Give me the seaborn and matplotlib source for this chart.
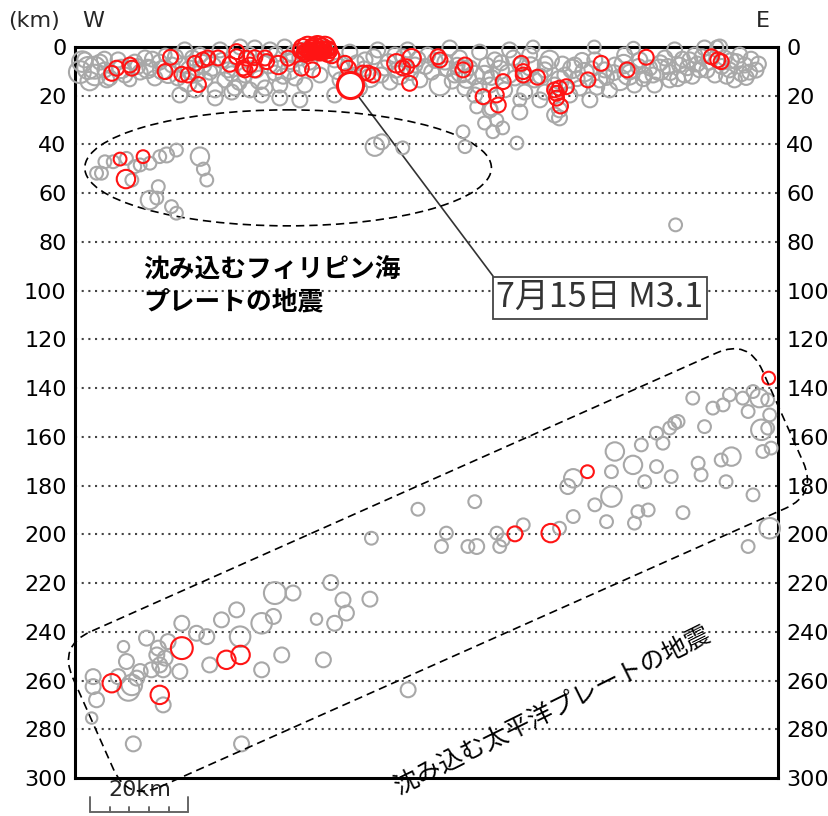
import numpy as np
import pandas as pd
import matplotlib
matplotlib.use("Agg")
import matplotlib.pyplot as plt
import seaborn as sns
from matplotlib.patches import Ellipse, FancyBboxPatch
from matplotlib.transforms import Affine2D

# ---------------- data (x: km from W edge, depth: km, mag) ----------------
gray_x = [1.0, 2.7, 4.1, 5.1, 2.0, 6.1, 7.1, 8.8, 10.2, 11.2, 12.2, 13.3, 14.3, 15.3, 16.3, 17.3, 18.4, 19.8, 21.0,
          22.4, 23.5, 24.5, 25.5, 26.5, 27.5, 28.6, 29.6, 30.6, 31.2, 32.6, 33.7, 34.7, 35.7, 36.7, 37.7, 38.8, 39.8,
          40.8, 41.8, 42.8, 43.9, 44.9, 45.9, 46.9, 47.9, 50.0, 51.0, 53.0, 54.1, 56.1, 57.1, 58.1, 59.2, 60.2, 61.8,
          63.2, 64.3, 65.3, 66.3, 67.9, 69.4, 70.4, 72.0, 72.8, 74.5, 75.5, 76.5, 77.5, 78.5, 79.6, 80.6, 81.6, 82.6,
          83.6, 84.7, 85.7, 86.7, 87.7, 88.7, 89.8, 90.8, 91.8, 92.8, 93.8, 94.9, 95.9, 96.9, 97.9, 98.9, 100.0,
          101.0, 102.0, 103.0, 104.0, 105.1, 106.1, 107.1, 108.1, 109.1, 110.2, 111.2, 112.2, 113.2, 114.2, 115.3,
          116.3, 117.3, 118.3, 119.3, 120.4, 121.4, 122.4, 123.4, 124.4, 125.5, 126.5, 127.5, 128.5, 129.5, 130.6,
          131.6, 132.6, 133.6, 134.6, 135.7, 136.7, 137.7,
          21.4, 28.6, 32.0, 38.1, 41.8, 45.9, 53.0, 84.7, 90.8, 95.9, 97.9, 98.9,
          46.9, 48.9, 44.9, 14.8, 19.0, 26.0, 27.0, 23.0, 25.0, 79.0, 80.0, 101.5, 99.0, 113.0,
          121.0, 124.0, 127.0, 130.0, 135.0, 138.0, 139.5, 136.0, 133.0, 131.0, 114.0, 106.0, 93.5,
          3.0, 6.5, 9.5, 12.8, 15.8, 17.8, 20.5, 22.0, 24.0, 28.0, 30.0, 32.0, 33.5, 35.5, 37.0, 39.5, 41.0,
          42.5, 44.0, 53.8, 55.5, 57.5, 59.0, 61.0, 62.5, 64.0, 65.5, 67.0, 68.5, 70.0, 71.5, 73.5, 76.0, 77.0,
          78.0, 81.5, 82.5, 84.0, 85.0, 87.0, 88.5, 89.5, 92.0, 93.0, 95.0, 96.0, 99.5, 102.5, 103.5, 105.5,
          106.5, 108.5, 110.0, 112.0, 115.0, 116.0, 118.0, 119.5, 121.5, 123.0, 125.0, 126.0, 128.0, 129.0,
          132.0, 134.0, 137.0, 139.0, 1.5, 4.0, 6.0,
          # Philippine Sea plate
          4.4, 5.4, 6.1, 7.8, 11.6, 13.3, 15.3, 17.3, 18.7, 20.7, 25.5, 26.2, 26.9, 17.0, 15.3, 16.7, 19.7, 20.7,
          12.2, 10.5, 61.2, 62.6, 66.9, 79.2, 79.6, 85.3, 87.3, 83.6, 82.0, 84.9, 86.1, 90.2, 90.8, 122.6,
          # Pacific plate
          126.1, 130.2, 132.3, 133.6, 136.3, 138.4, 139.7, 141.4, 137.4, 140.1, 141.4, 141.8, 140.4, 142.1, 138.4,
          141.8, 137.4, 122.4, 123.1, 121.4, 128.5, 118.7, 120.0, 115.6, 110.2, 113.9, 118.7, 121.7, 109.5, 116.3,
          127.2, 127.8, 131.9, 134.0, 132.9, 101.7, 100.6, 109.5, 106.1, 108.5, 101.7, 114.2, 114.9, 117.0, 124.1,
          98.9, 91.5, 86.1, 86.7, 87.4, 82.0, 80.2, 75.8, 74.8, 81.6, 70.0, 60.5,
          40.8, 44.5, 52.2, 54.7, 55.4, 60.2, 49.3, 53.0, 40.5, 38.1, 33.0, 29.9, 21.8, 33.7, 26.9, 24.8, 14.6,
          9.9, 19.0, 17.0, 16.7, 18.4, 17.3, 15.6, 18.0, 21.4, 10.5, 13.3, 8.8, 11.6, 10.9, 12.6, 3.7, 4.4, 3.7,
          3.4, 18.0, 27.5, 38.1, 42.2, 50.7, 11.9, 34.0, 68.0]
gray_depth = [10.3, 8.6, 11.5, 6.2, 5.3, 9.4, 12.7, 5.3, 11.5, 13.5, 6.2, 10.3, 4.5, 8.6, 12.7, 6.2, 3.3, 7.4, 12.7,
              1.2, 9.4, 17.6, 3.3, 13.5, 10.3, 17.6, 1.2, 13.5, 9.4, 16.8, 0.0, 11.5, 17.6, 0.4, 13.5, 16.8, 1.2,
              10.7, 15.6, 0.0, 9.4, 12.7, 4.5, 15.6, 6.2, 11.5, 0.4, 5.3, 13.5, 2.1, 11.5, 16.8, 5.3, 12.7, 1.2,
              8.6, 14.4, 3.3, 11.5, 1.2, 7.4, 13.5, 3.3, 10.3, 15.6, 6.2, 0.4, 11.5, 4.5, 16.8, 8.6, 19.7, 2.1,
              11.5, 15.6, 5.3, 9.4, 17.6, 1.2, 12.7, 7.4, 18.5, 3.3, 13.5, 21.7, 9.4, 5.3, 15.6, 25.8, 11.5,
              19.7, 7.4, 16.8, 10.3, 21.7, 5.3, 13.5, 9.4, 17.6, 7.4, 13.5, 3.3, 10.3, 15.6, 5.3,
              11.5, 8.6, 15.6, 9.4, 4.5, 13.5, 1.2, 7.4, 11.5, 5.3, 3.3, 9.4, 0.4, 6.2, 11.5,
              0.0, 4.5, 9.4, 13.5, 3.3, 7.4, 10.3,
              19.7, 20.9, 18.5, 19.7, 20.9, 21.7, 19.7, 25.8, 26.7, 18.5, 27.9, 29.1,
              1.2, 2.5, 3.0, 9.0, 11.0, 7.0, 5.0, 14.5, 11.0, 10.0, 13.0, 9.0, 13.5, 11.0,
              8.0, 5.0, 7.0, 4.0, 6.0, 5.0, 7.0, 11.0, 12.0, 0.0, 0.5, 0.0, 0.0,
              14.0, 13.5, 9.0, 8.0, 5.0, 9.5, 4.0, 7.5, 4.5, 8.0, 5.5, 11.0, 14.5, 3.0, 9.5, 7.0, 3.0,
              12.0, 6.0, 9.0, 12.0, 6.5, 9.0, 4.0, 11.5, 6.0, 9.5, 4.0, 10.5, 5.0, 8.0, 5.5, 9.0, 14.0,
              7.5, 11.5, 16.0, 7.5, 12.5, 6.5, 11.0, 4.5, 12.0, 8.0, 12.0, 7.0, 7.0, 13.0, 5.5, 9.0,
              16.5, 12.5, 10.5, 7.0, 8.0, 13.0, 11.5, 6.5, 10.5, 13.0, 8.5, 12.0, 4.0, 9.5,
              8.0, 5.5, 12.5, 9.5, 6.0, 8.5, 5.0,
              51.8, 51.8, 47.1, 47.1, 54.6, 48.4, 47.7, 45.0, 44.3, 42.3, 45.0, 50.1, 54.6, 57.3, 62.8, 62.0, 65.5,
              68.2, 49.1, 45.7, 40.9, 38.9, 41.4, 34.8, 40.9, 34.8, 33.2, 31.2, 24.6, 25.4, 30.0, 39.4, 21.7, 73.0,
              144.1, 148.2, 146.9, 142.8, 144.1, 141.4, 144.1, 144.8, 149.6, 157.1, 156.4, 151.0, 166.0, 164.6,
              183.8, 197.5, 205.0, 154.4, 153.7, 156.4, 155.8, 158.5, 162.6, 163.3, 166.0, 171.5, 172.2, 176.3,
              174.3, 178.4, 170.8, 175.6, 169.5, 168.1, 178.4, 177.0, 180.4, 184.5, 187.9, 194.8, 192.7, 195.4,
              190.7, 190.0, 191.1, 197.5, 196.1, 199.5, 205.0, 202.3, 205.0, 205.0, 199.5, 205.0, 186.6, 189.7,
              201.6,
              224.1, 224.1, 219.8, 226.9, 232.3, 226.6, 234.8, 236.5, 233.7, 236.5, 231.0, 235.1, 236.5, 242.0,
              242.0, 240.6, 242.6, 246.1, 244.0, 246.7, 249.5, 250.8, 253.6, 255.6, 255.6, 256.3, 252.2, 256.3,
              258.4, 261.8, 263.8, 259.0, 258.4, 267.9, 262.5, 275.4, 270.0, 253.6, 255.6, 249.5, 251.5, 286.0,
              286.0, 263.8]
gray_mag = [2.5, 2.5, 2.3, 1.5, 1.5, 1.5, 1.5, 1.5, 1.5, 1.2, 1.5, 1.5, 1.5, 1.5, 1.5, 1.5, 1.2, 1.5, 1.5,
            1.5, 2.0, 1.5, 1.5, 1.5, 1.5, 1.5, 1.5, 1.5, 1.5, 1.5, 1.5, 1.5, 1.5, 1.5, 2.0, 1.5, 1.5,
            1.5, 1.5, 1.5, 2.0, 1.5, 1.5, 1.5, 1.5, 1.5, 1.5, 1.5, 1.5, 1.5, 1.5, 1.5, 1.5, 2.0, 1.5,
            1.5, 1.5, 1.5, 2.0, 1.5, 1.5, 1.5, 1.5, 1.5, 2.3, 1.5, 1.5, 1.5, 1.5, 1.5, 1.5, 1.5, 1.5,
            2.0, 1.5, 1.5, 2.0, 1.5, 1.5, 1.5, 1.5, 1.5, 1.5, 1.5, 1.5, 1.5, 2.0, 1.5, 1.5, 1.5,
            1.5, 1.5, 1.5, 2.0, 1.5, 1.5, 1.5, 1.5, 1.5, 1.5, 2.3, 1.5, 1.5, 1.5, 1.5,
            1.5, 1.5, 1.5, 2.3, 1.5, 1.5, 1.5, 1.5, 1.5, 1.5, 1.5, 1.5, 1.5, 1.5, 1.5,
            1.5, 1.5, 1.5, 1.5, 1.5, 1.5, 1.5,
            1.5, 1.5, 1.5, 1.5, 1.5, 1.5, 1.5, 1.5, 1.5, 1.5, 1.5, 1.5,
            1.5, 1.5, 2.0, 2.0, 2.0, 2.0, 1.5, 2.0, 1.5, 2.5, 2.0, 2.0, 2.0, 2.5,
            1.5, 1.5, 1.5, 1.5, 1.5, 1.5, 1.5, 1.5, 1.5, 1.2, 1.2, 1.2, 1.2,
            2.0, 1.5, 2.0, 1.5, 1.5, 2.0, 1.5, 1.5, 1.5, 2.0, 1.5, 1.5, 1.5, 1.5, 1.5, 2.0, 1.5,
            1.5, 1.5, 2.3, 1.5, 1.5, 1.5, 1.5, 1.5, 1.5, 1.5, 1.5, 1.5, 1.5, 1.5, 1.5, 1.5, 1.5,
            1.5, 2.0, 1.5, 1.5, 1.5, 1.5, 2.0, 1.5, 1.5, 2.0, 1.5, 1.5, 1.5, 1.5, 1.5, 1.5,
            1.5, 1.5, 1.5, 2.0, 1.5, 1.5, 1.5, 1.5, 1.5, 1.5, 1.5, 1.5, 1.5, 1.5,
            1.5, 1.5, 1.5, 1.5, 2.3, 2.5, 1.5,
            1.2, 1.2, 1.2, 1.2, 1.2, 1.2, 1.2, 1.2, 1.5, 1.2, 2.0, 1.2, 1.2, 1.2, 2.0, 1.2, 1.2,
            1.2, 1.2, 1.2, 2.0, 1.5, 1.2, 1.2, 1.2, 1.2, 1.2, 1.2, 1.2, 1.2, 1.2, 1.2, 1.2, 1.2,
            1.2, 1.2, 1.2, 1.2, 1.2, 1.2, 2.0, 1.2, 1.2, 2.3, 1.2, 1.2, 1.2, 1.2,
            1.2, 2.3, 1.2, 1.2, 1.2, 1.2, 1.2, 1.2, 1.2, 1.2, 2.0, 2.0, 1.2, 1.2,
            1.2, 1.2, 1.2, 1.2, 1.2, 2.0, 1.2, 2.0, 1.5, 2.3, 1.2, 1.2, 1.2, 1.2,
            1.2, 1.2, 1.2, 1.2, 1.2, 1.2, 1.2, 1.2, 1.5, 1.2, 1.2, 1.2, 1.2, 1.2,
            1.2,
            2.5, 1.5, 1.5, 1.5, 1.5, 1.5, 1.0, 1.5, 1.5, 2.3, 1.5, 1.5, 1.5, 2.3,
            1.5, 1.5, 1.5, 1.0, 1.5, 1.5, 1.5, 1.5, 1.5, 1.5, 1.5, 1.5, 1.5, 1.5,
            1.5, 2.3, 2.5, 1.5, 1.5, 1.5, 1.5, 1.0, 1.5, 1.5, 1.5, 1.5, 1.5, 1.5,
            1.5, 1.5]

red_x = [7.5, 8.5, 11.2, 11.6, 18.4, 19.5, 21.8, 23.1, 25.2, 24.5, 26.1, 27.1, 29.2, 31.6, 33.0, 33.0, 35.0, 35.7,
         34.3, 34.7, 36.7, 36.7, 38.8, 39.1, 41.5, 43.5, 46.2, 48.5, 52.4, 55.1, 55.8, 58.8, 59.8, 60.8, 65.6,
         66.9, 67.7, 68.7, 68.3, 74.1, 74.5, 79.6, 79.2, 87.4, 83.3, 86.0, 86.4, 91.1, 91.5, 91.5, 94.4, 97.9,
         98.3, 98.9, 100.3, 98.3, 99.1, 104.7, 107.4, 112.7, 116.6, 129.9, 131.2, 131.9,
         # swarm at the top
         46.5, 47.5, 48.5, 49.5, 50.5, 51.0, 48.0, 50.0, 52.0, 46.0, 49.0, 47.0, 51.5, 49.5, 48.5, 50.5, 47.8,
         49.8, 51.8, 46.8, 47.0, 48.0, 49.0, 50.0, 51.0, 48.5, 50.5, 47.5, 49.0, 50.0,
         # deep events
         9.2, 13.9, 10.4, 141.6, 104.6, 97.1, 89.8, 21.8, 7.5, 17.3, 30.9, 33.8]
red_depth = [10.8, 8.7, 7.4, 8.7, 10.1, 4.2, 11.2, 11.5, 15.4, 6.7, 5.3, 4.5, 4.5, 7.1, 1.9, 4.0, 4.6, 7.4,
             8.6, 9.4, 4.4, 9.4, 4.5, 6.0, 7.4, 4.6, 8.7, 9.4, 3.6, 6.7, 8.7, 10.7, 10.7, 11.5, 6.7,
             8.6, 8.1, 4.6, 14.9, 4.0, 5.3, 7.4, 9.4, 14.2, 20.4, 19.7, 23.8, 6.7, 10.1, 11.5, 12.4, 17.6,
             19.0, 16.9, 16.3, 21.0, 24.2, 13.5, 6.7, 9.4, 4.2, 4.0, 5.3, 6.0,
             0.5, 0.0, 1.0, 0.0, 1.5, 0.0, 2.5, 2.5, 1.5, 1.5, 0.0, 3.0, 3.0, 1.5, 0.0, 0.0, 1.8,
             1.0, 0.8, 2.2, 1.0, 0.5, 1.5, 0.5, 1.5, 2.0, 2.2, 2.0, 0.2, 1.8,
             46.0, 45.0, 54.2, 135.9, 174.3, 199.5, 199.8, 246.7, 261.1, 265.9, 251.5, 249.5]
red_mag = [1.5, 1.5, 1.5, 1.5, 1.5, 1.5, 1.5, 1.5, 1.5, 1.5, 1.5, 1.5, 1.5, 1.5, 1.5, 1.5, 1.5, 1.5,
           1.5, 1.5, 1.5, 1.5, 1.5, 1.5, 2.0, 1.5, 1.5, 1.5, 1.5, 1.5, 1.5, 1.5, 1.5, 1.5, 2.0,
           1.5, 1.5, 2.0, 1.5, 1.5, 1.5, 1.5, 1.5, 1.5, 1.5, 1.5, 1.5, 1.5, 1.5, 1.5, 1.5, 1.5,
           1.5, 1.5, 1.5, 1.5, 1.5, 1.5, 1.5, 1.5, 1.5, 1.5, 1.5, 1.5,
           2.0, 2.3, 2.0, 2.5, 2.0, 2.3, 1.5, 1.5, 1.5, 1.5, 2.0, 1.5, 1.5, 1.8, 1.8, 1.8, 1.5,
           1.5, 1.5, 1.5, 1.0, 1.0, 1.0, 1.0, 1.0, 1.2, 1.2, 1.2, 1.0, 1.0,
           1.2, 1.2, 2.0, 1.2, 1.2, 2.0, 1.5, 2.5, 2.0, 2.0, 2.0, 2.0]

main_x = [56.1]
main_depth = [15.6]
main_mag = [3.1]
main_label = "7月15日 M3.1"

depth_ticks = list(range(0, 301, 20))
x_extent_km = 143.5
scale_km = 20

# ---------------- figure ----------------
sns.set_theme(style="white")
plt.rcParams["font.family"] = ["DejaVu Sans"]
JP = ["Noto Sans CJK JP", "DejaVu Sans"]

fig = plt.figure(figsize=(8.29, 8.16), dpi=100)
ax = fig.add_axes([75 / 829, 1 - 778 / 816, 703 / 829, 731 / 816])

gray_df = pd.DataFrame({"x": gray_x, "depth": gray_depth, "mag": gray_mag})
red_df = pd.DataFrame({"x": red_x, "depth": red_depth, "mag": red_mag})
main_df = pd.DataFrame({"x": main_x, "depth": main_depth, "mag": main_mag})

all_mags = sorted(set(gray_mag) | set(red_mag) | set(main_mag))
# marker radius in px grows linearly with magnitude; s is area in pt^2
size_map = {m: (2 * (3.5 * m + 2.2) * 0.72) ** 2 for m in all_mags}

for yv in depth_ticks[1:-1]:
    ax.axhline(yv, color="#444444", lw=1.5, ls=(0, (1, 2.2)), zorder=1)

sns.scatterplot(data=gray_df, x="x", y="depth", size="mag", sizes=size_map, legend=False, ax=ax,
                marker="o", facecolors="none", edgecolors="#a8a8a8", linewidths=1.5, zorder=3, clip_on=False)
sns.scatterplot(data=red_df, x="x", y="depth", size="mag", sizes=size_map, legend=False, ax=ax,
                marker="o", facecolors="none", edgecolors="#ff1414", linewidths=1.5, zorder=4, clip_on=False)

ax.annotate(main_label, xy=(main_x[0], main_depth[0]), xytext=(107.1, 102.9), textcoords="data",
            ha="center", va="center", fontsize=24.5, family=JP, color="#333333",
            bbox=dict(boxstyle="square,pad=0.1", fc="white", ec="#444444", lw=1.3),
            arrowprops=dict(arrowstyle="-", color="#333333", lw=1.2, relpos=(0, 1),
                            shrinkA=0, shrinkB=0), zorder=2)

sns.scatterplot(data=main_df, x="x", y="depth", size="mag", sizes=size_map, legend=False, ax=ax,
                marker="o", facecolors="white", edgecolors="#ff1414", linewidths=2.2, zorder=5, clip_on=False)

ax.set_xlim(0, x_extent_km)
ax.set_ylim(300, 0)
ax.set_xticks([])
ax.set_yticks(depth_ticks)
ax.set_yticklabels([str(v) for v in depth_ticks])
ax.set_xlabel("")
ax.set_ylabel("")
ax.tick_params(axis="y", length=0, pad=6, labelsize=16, left=True, right=True,
               labelleft=True, labelright=True, colors="black")
for sp in ax.spines.values():
    sp.set_visible(True)
    sp.set_color("black")
    sp.set_linewidth(2.2)
    sp.set_zorder(2.5)

# dashed ellipse (Philippine Sea plate)
ax.add_patch(Ellipse((43.5, 49.6), width=83, height=47.6, fill=False, ec="black",
                     lw=1.2, ls=(0, (5, 3)), zorder=2))

# dashed rounded box (Pacific plate), drawn in inches
box = FancyBboxPatch((-3.775, -0.85), 7.55, 1.70, boxstyle="round,pad=0,rounding_size=0.35",
                     fill=False, ec="black", lw=1.2, ls=(0, (5, 3)),
                     transform=Affine2D().rotate_deg(24).translate(4.38, 2.46) + fig.dpi_scale_trans)
fig.add_artist(box)

ax.text(13.9, 86.0, "沈み込むフィリピン海\nプレートの地震", family=JP, fontsize=18.5, fontweight="bold",
        color="black", ha="left", va="top", linespacing=1.25, zorder=6)
ax.text(97.5, 272.0, "沈み込む太平洋プレートの地震", family=JP, fontsize=18, rotation=26.3,
        rotation_mode="anchor", ha="center", va="center", color="black", zorder=6)

fig.text(8 / 829, 1 - 21 / 816, "(km)", fontsize=16, ha="left", va="center")
fig.text(93 / 829, 1 - 21 / 816, "W", fontsize=16, ha="center", va="center")
fig.text(763 / 829, 1 - 21 / 816, "E", fontsize=16, ha="center", va="center")

# scale bar
x0 = 3.1
bar_y = 313.8
ax.plot([x0, x0 + scale_km], [bar_y, bar_y], color="#666666", lw=1.4, clip_on=False)
for i, xt in enumerate(np.linspace(x0, x0 + scale_km, 6)):
    top = 307.6 if i in (0, 5) else 311.9
    ax.plot([xt, xt], [top, bar_y], color="#666666", lw=1.4, clip_on=False)
ax.text(x0 + 10.2, 305.0, f"{scale_km}km", fontsize=16, ha="center", va="center")

fig.savefig("out.png", dpi=100)
